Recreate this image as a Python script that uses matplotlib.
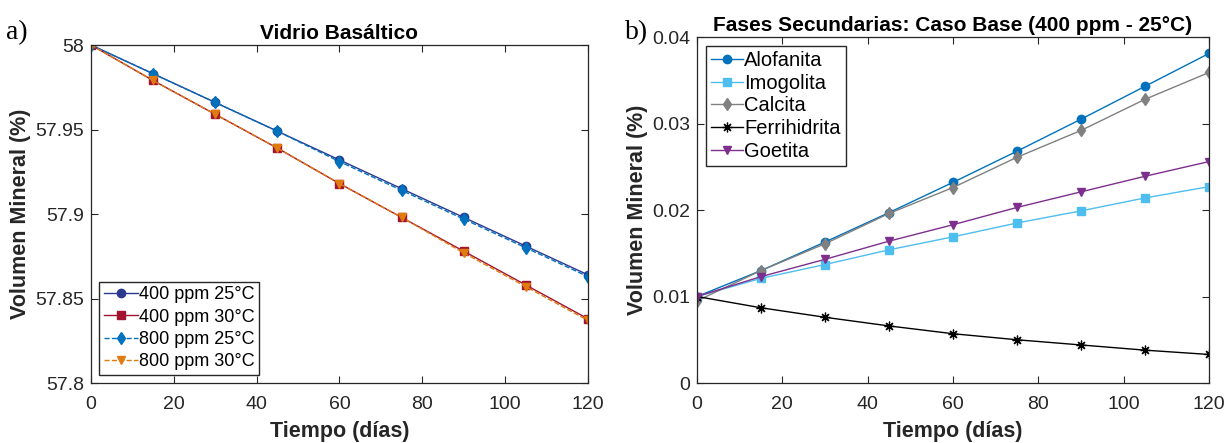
import matplotlib.pyplot as plt
import numpy as np

plt.rcParams["font.family"] = "Liberation Sans"

# =====================================================
# DATA
# =====================================================

dias = [0, 15, 30, 45, 60, 75, 90, 105, 120]

# Vidrio basaltico (%)
v_400_25 = [58.000, 57.983, 57.966, 57.949, 57.932, 57.915, 57.898, 57.881, 57.864]
v_400_30 = [58.000, 57.979, 57.959, 57.939, 57.918, 57.898, 57.878, 57.858, 57.838]
v_800_25 = [58.000, 57.983, 57.966, 57.949, 57.931, 57.914, 57.897, 57.880, 57.863]
v_800_30 = [58.000, 57.979, 57.959, 57.939, 57.918, 57.898, 57.877, 57.857, 57.837]

# Fases secundarias (%)
alofanita = [0.0100, 0.0130, 0.0163, 0.0197, 0.0232, 0.0268, 0.0305, 0.0343, 0.0381]
imogolita = [0.0100, 0.0121, 0.0137, 0.0154, 0.0169, 0.0185, 0.0199, 0.0214, 0.0227]
calcita = [0.0095, 0.0130, 0.0161, 0.0196, 0.0226, 0.0261, 0.0292, 0.0328, 0.0359]
ferrihidrita = [0.0100, 0.0087, 0.0076, 0.0066, 0.0057, 0.0050, 0.0044, 0.0038, 0.0033]
goetita = [0.0100, 0.0123, 0.0143, 0.0164, 0.0183, 0.0203, 0.0221, 0.0239, 0.0256]

# =====================================================
# FIGURE
# =====================================================

fig = plt.figure(figsize=(12.28, 4.43), dpi=100)
ax1 = fig.add_axes([0.0741, 0.1354, 0.4047, 0.763])
ax2 = fig.add_axes([0.5676, 0.1354, 0.4169, 0.781])

lw = 1.0
ms = 6
asterisco = (8, 2, 0)   # asterisco de 8 brazos (tipo '*')

leg_kw = dict(frameon=True, fancybox=False, edgecolor="#262626", framealpha=1,
              borderpad=0.25, handletextpad=0.05, borderaxespad=0.45)

# -----------------------------------------------------
# a) Vidrio Basaltico
# -----------------------------------------------------

ax1.plot(dias, v_400_25, "-o", color="#2B3990", lw=lw, ms=ms, label="400 ppm 25°C")
ax1.plot(dias, v_400_30, "-s", color="#A2142F", lw=lw, ms=ms - 0.5, label="400 ppm 30°C")
ax1.plot(dias, v_800_25, "--d", color="#0072BD", lw=lw, ms=ms, label="800 ppm 25°C")
ax1.plot(dias, v_800_30, "--v", color="#E07B10", lw=lw, ms=ms, label="800 ppm 30°C")

ax1.set_xlim(0, 120)
ax1.set_ylim(57.8, 58)
ax1.set_xticks(np.arange(0, 121, 20))
ax1.set_yticks([57.8, 57.85, 57.9, 57.95, 58])
ax1.set_yticklabels(["57.8", "57.85", "57.9", "57.95", "58"])
ax1.set_title("Vidrio Basáltico", fontsize=15, fontweight="bold", pad=4)

ax1.legend(loc="lower left", fontsize=13, handlelength=1.9, labelspacing=0.3, **leg_kw)

# -----------------------------------------------------
# b) Fases secundarias
# -----------------------------------------------------

ax2.plot(dias, alofanita, "-o", color="#0072BD", lw=lw, ms=ms, label="Alofanita")
ax2.plot(dias, imogolita, "-s", color="#4DBEEE", lw=lw, ms=ms - 0.5, label="Imogolita")
ax2.plot(dias, calcita, "-d", color="#808080", lw=lw, ms=ms + 0.5, label="Calcita")
ax2.plot(dias, ferrihidrita, "-", marker=asterisco, color="black", lw=lw, ms=ms + 1,
         markeredgewidth=0.9, label="Ferrihidrita")
ax2.plot(dias, goetita, "-v", color="#7E2F8E", lw=lw, ms=ms, label="Goetita")

ax2.set_xlim(0, 120)
ax2.set_ylim(0, 0.04)
ax2.set_xticks(np.arange(0, 121, 20))
ax2.set_yticks([0, 0.01, 0.02, 0.03, 0.04])
ax2.set_yticklabels(["0", "0.01", "0.02", "0.03", "0.04"])
ax2.set_title("Fases Secundarias: Caso Base (400 ppm - 25°C)", fontsize=15,
              fontweight="bold", pad=4)

ax2.legend(loc="upper left", fontsize=14.5, handlelength=1.6, labelspacing=0.18, **leg_kw)

# =====================================================
# FORMATTING
# =====================================================

for ax in (ax1, ax2):
    ax.set_xlabel("Tiempo (días)", fontsize=15.5, fontweight="bold", color="#262626", labelpad=6)
    ax.set_ylabel("Volumen Mineral (%)", fontsize=15.5, fontweight="bold", color="#262626", labelpad=3)
    ax.tick_params(direction="in", top=True, right=True, length=5, width=0.8,
                   labelsize=14, colors="#262626")
    ax.tick_params(axis="x", pad=9)
    ax.tick_params(axis="y", pad=5)
    for spine in ax.spines.values():
        spine.set_color("#262626")
        spine.set_linewidth(0.9)

fig.text(0.005, 0.912, "a)", fontsize=20, family="Liberation Serif")
fig.text(0.509, 0.912, "b)", fontsize=20, family="Liberation Serif")

plt.savefig("out.png", dpi=100)
